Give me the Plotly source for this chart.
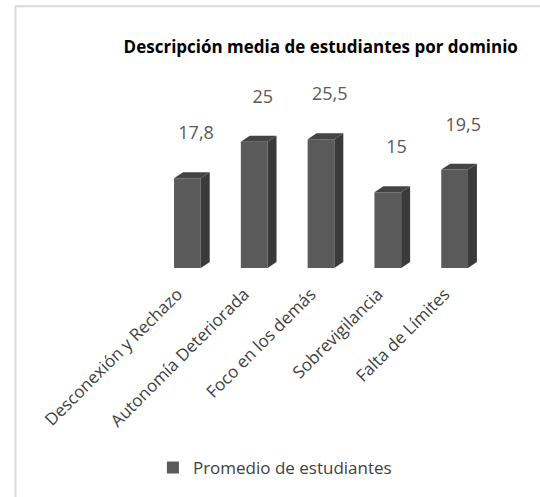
import plotly.graph_objects as go

categories = ["Desconexión y Rechazo", "Autonomía Deteriorada", "Foco en los demás",
              "Sobrevigilancia", "Falta de Límites"]
values = [17.8, 25, 25.5, 15, 19.5]
labels = ["17,8", "25", "25,5", "15", "19,5"]
series_name = "Promedio de estudiantes"

FRONT = "#5a5a5a"
SIDE = "#3a3a3a"
TOP = "#444444"
W = 0.4          # bar width (category units)
DX = 0.134       # depth offset in x
DY = 1.18        # depth offset in y

xs = list(range(len(categories)))

side_x, side_y, top_x, top_y = [], [], [], []
for i, v in zip(xs, values):
    r = i + W / 2
    l = i - W / 2
    side_x += [r, r + DX, r + DX, r, r, None]
    side_y += [0, DY, v + DY, v, 0, None]
    top_x += [l, l + DX, r + DX, r, l, None]
    top_y += [v, v + DY, v + DY, v, v, None]

fig = go.Figure()
fig.add_trace(go.Bar(x=xs, y=values, width=W, name=series_name,
                     marker=dict(color=FRONT, line=dict(width=0)),
                     showlegend=True))
fig.add_trace(go.Scatter(x=side_x, y=side_y, fill="toself", mode="lines",
                         fillcolor=SIDE, line=dict(width=0, color=SIDE),
                         showlegend=False, hoverinfo="skip"))
fig.add_trace(go.Scatter(x=top_x, y=top_y, fill="toself", mode="lines",
                         fillcolor=TOP, line=dict(width=0, color=TOP),
                         showlegend=False, hoverinfo="skip"))
fig.add_trace(go.Scatter(x=[i + 0.13 for i in xs], y=[v + 8.6 for v in values],
                         mode="text", text=labels,
                         textfont=dict(family="Open Sans", size=18, color="#595959"),
                         showlegend=False, hoverinfo="skip", cliponaxis=False))

fig.update_layout(
    width=540, height=497,
    margin=dict(l=154, r=52, t=80, b=227),
    paper_bgcolor="white", plot_bgcolor="white",
    title=dict(text="<b>Descripción media de estudiantes por dominio</b>",
               x=0.594, xanchor="center", y=1 - 47 / 497, yanchor="middle",
               font=dict(family="Open Sans", size=17, color="#000000")),
    xaxis=dict(range=[-0.5, 4.5], tickmode="array", tickvals=xs, ticktext=categories,
               tickangle=-45, showgrid=False, zeroline=False, showline=False,
               ticklabelstandoff=12, ticklabelshift=-10,
               tickfont=dict(family="Open Sans", size=17, color="#404040")),
    yaxis=dict(range=[0, 37.25], visible=False, showgrid=False, zeroline=False),
    legend=dict(orientation="h", x=0.362, xanchor="center", y=-1.063, yanchor="middle",
                font=dict(family="Open Sans", size=17, color="#404040"),
                itemwidth=30),
    showlegend=True,
    shapes=[dict(type="rect", xref="paper", yref="paper",
                 x0=(15.5 - 154) / 334, x1=1.5, y0=-2, y1=1 + (80 - 5.5) / 190,
                 line=dict(color="#d9d9d9", width=2), fillcolor="rgba(0,0,0,0)",
                 layer="below")],
)

fig.write_html("out.html", config={"displayModeBar": False},
               post_script="document.body.style.margin='0';")
